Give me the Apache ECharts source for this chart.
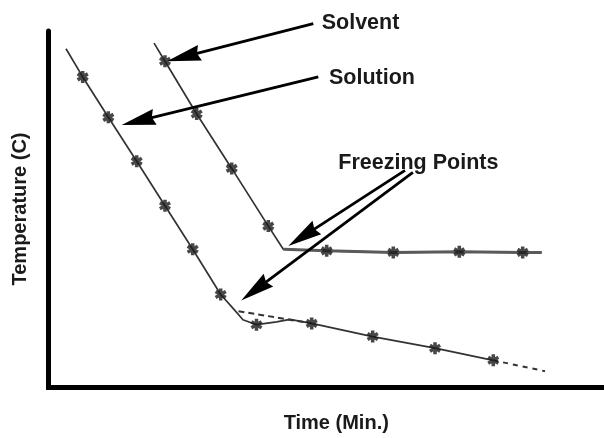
<!DOCTYPE html>
<html><head><meta charset="utf-8">
<script src="https://cdn.jsdelivr.net/npm/echarts@6/dist/echarts.min.js"></script>
<style>html,body{margin:0;padding:0;background:#fff}#c{width:604px;height:438px}</style>
</head><body><div id="c"></div>
<script>
// Time (arbitrary minutes, 0-100) and temperature (arbitrary units, 0-100)
var solventMarkers = [[20.97,91.5],[26.68,76.7],[32.98,61.4],[39.57,45.2],[50.08,38.25],[62.07,37.8],[73.95,37.97],[85.36,37.8]];
var solventBends = [[19.0,96.6],[42.27,38.7],[88.78,37.8]];
var solventFreezeTime = 42.27;
var solutionMarkers = [[6.16,87.1],[10.77,75.75],[15.88,63.4],[20.97,50.9],[25.96,38.7],[31.0,26.0],[37.44,17.5],[47.38,17.86],[58.36,14.17],[69.58,10.9],[80.07,7.5]];
var solutionBends = [[3.15,95.0],[33.27,22.0],[35.0,18.9],[41.08,18.3],[43.47,19.0]];
var solutionTail = [[80.07,7.5],[89.38,4.44]];
var supercoolExtrapolation = [[34.2,21.3],[47.38,17.86]];
var annotationText = ['Solvent','Solution','Freezing Points'];
var annotationAnchor = [[49.18,102.3],[50.5,86.86],[52.17,62.97]];
var arrows = [[47.67,102.1,21.33,91.53],[48.57,87.14,13.18,73.6],[64.18,60.83,43.17,39.64],[65.6,60.3,34.69,24.3]];

function byTime(a,b){return a[0]-b[0];}
var solventPath = solventMarkers.concat(solventBends).sort(byTime);
var solventPlateau = solventPath.filter(function(p){return p[0] >= solventFreezeTime;});
var solutionPath = solutionMarkers.concat(solutionBends).sort(byTime);

var star = 'path://M3.5 0L6.5 0L6.5 10L3.5 10Z M-0.08 3.8L1.42 1.2L10.08 6.2L8.58 8.8Z M-0.08 6.2L8.58 1.2L10.08 3.8L1.42 8.8Z';
var lineCol = '#333';
var font = '"Liberation Sans", Arial, Helvetica, sans-serif';

var chart = echarts.init(document.getElementById('c'), null, {renderer:'canvas'});
chart.setOption({
  animation: false,
  backgroundColor: '#fff',
  grid: {left: 48.5, right: 0, top: 31, bottom: 47},
  xAxis: {
    type: 'value', min: 0, max: 100,
    name: 'Time (Min.)', nameLocation: 'middle', nameGap: 26,
    nameTextStyle: {fontFamily: font, fontWeight: 'bold', fontSize: 20, color: '#1a1a1a', padding: [0,0,0,20]},
    axisLine: {show: true, lineStyle: {color: '#000', width: 5, cap: 'square'}},
    axisTick: {show: false}, axisLabel: {show: false}, splitLine: {show: false}
  },
  yAxis: {
    type: 'value', min: 0, max: 100,
    name: 'Temperature (C)', nameLocation: 'middle', nameGap: 18,
    nameTextStyle: {fontFamily: font, fontWeight: 'bold', fontSize: 20, color: '#1a1a1a'},
    axisLine: {show: true, lineStyle: {color: '#000', width: 5}},
    axisTick: {show: false}, axisLabel: {show: false}, splitLine: {show: false}
  },
  series: [
    {type:'line', name:'Solvent', data: solventPath, showSymbol:false, lineStyle:{color:lineCol, width:1.7}, z:2},
    {type:'line', name:'Solvent plateau', data: solventPlateau, showSymbol:false, lineStyle:{color:'#5a5a5a', width:3}, z:2},
    {type:'line', name:'Solution', data: solutionPath, showSymbol:false, lineStyle:{color:lineCol, width:1.7}, z:2},
    {type:'line', name:'Solution tail', data: solutionTail, showSymbol:false, lineStyle:{color:lineCol, width:2, type:[5,5]}, z:2},
    {type:'line', name:'Extrapolation', data: supercoolExtrapolation, showSymbol:false, lineStyle:{color:lineCol, width:2, type:[6,4]}, z:2},
    {type:'scatter', data: solventMarkers, symbol: star, symbolSize: 12, itemStyle:{color:'#1a1a1a'}, z:3},
    {type:'scatter', data: solutionMarkers, symbol: star, symbolSize: 12, itemStyle:{color:'#1a1a1a'}, z:3},
    {type:'custom', data: arrows, encode:{x:[0,2], y:[1,3]}, z:4, clip:false,
      renderItem: function(params, api){
        var p1 = api.coord([api.value(0), api.value(1)]);
        var p2 = api.coord([api.value(2), api.value(3)]);
        var dx=p2[0]-p1[0], dy=p2[1]-p1[1], L=Math.sqrt(dx*dx+dy*dy);
        var ux=dx/L, uy=dy/L, nx=-uy, ny=ux;
        var hl=34, hw=8;
        var bx=p2[0]-ux*hl, by=p2[1]-uy*hl;
        return {type:'group', children:[
          {type:'line', shape:{x1:p1[0],y1:p1[1],x2:bx+ux*4,y2:by+uy*4}, style:{stroke:'#000', lineWidth:2.8}},
          {type:'polygon', shape:{points:[[p2[0],p2[1]],[bx+nx*hw,by+ny*hw],[bx+ux*3,by+uy*3],[bx-nx*hw,by-ny*hw]]}, style:{fill:'#000'}}
        ]};
      }
    },
    {type:'custom', data: annotationAnchor, z:5, clip:false,
      renderItem: function(params, api){
        var p = api.coord([api.value(0), api.value(1)]);
        return {type:'text', x:p[0], y:p[1], style:{text: annotationText[params.dataIndex], fill:'#1a1a1a',
          font:'bold 21.5px ' + font, align:'left', verticalAlign:'middle'}};
      }
    }
  ]
});
</script></body></html>
